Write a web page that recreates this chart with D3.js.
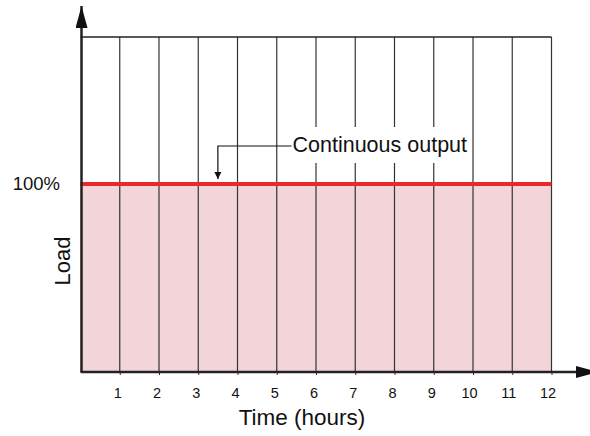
<!DOCTYPE html>
<html><head><meta charset="utf-8">
<script src="https://cdn.jsdelivr.net/npm/d3@7"></script>
<style>body{margin:0;background:#fff}</style>
</head><body>
<svg id="c" width="590" height="436"></svg>
<script>
const hours = [0,1,2,3,4,5,6,7,8,9,10,11,12];
const load = [100,100,100,100,100,100,100,100,100,100,100,100,100];
const tickLabels = ["1","2","3","4","5","6","7","8","9","10","11","12"];
const yTickLabels = ["100%"];
const annotation = "Continuous output";

const svg = d3.select("#c");
const L = 80.5, R = 551.5, T = 37, B = 371;
const x = d3.scaleLinear().domain([0,12]).range([L,R]);
const y = d3.scaleLinear().domain([0,100]).range([B,184]);
const font = "'Liberation Sans', Arial, sans-serif";

// fill
svg.append("path").datum(hours.map((h,i)=>[h,load[i]]))
  .attr("fill","#f3d4d8")
  .attr("d", d3.area().x(d=>x(d[0])).y0(B).y1(d=>y(d[1])));

// grid lines
svg.selectAll("line.g").data(hours.slice(1)).enter().append("line")
  .attr("x1",d=>x(d)).attr("x2",d=>x(d)).attr("y1",T).attr("y2",B)
  .attr("stroke","#333").attr("stroke-width",1.2);
// top border
svg.append("line").attr("x1",L).attr("x2",R).attr("y1",T).attr("y2",T)
  .attr("stroke","#222").attr("stroke-width",1.5);

// red line
svg.append("path").datum(hours.map((h,i)=>[h,load[i]]))
  .attr("fill","none").attr("stroke","#e8282b").attr("stroke-width",4)
  .attr("d", d3.line().x(d=>x(d[0])).y(d=>y(d[1])));

// x axis ticks
const xAxis = d3.axisBottom(x).tickValues(hours.slice(1)).tickFormat((d,i)=>tickLabels[i]).tickSize(4).tickPadding(13);
const gx = svg.append("g").attr("transform",`translate(0,${B})`).call(xAxis);
gx.select(".domain").remove();
gx.selectAll("line").attr("stroke","#333");
gx.selectAll("text").attr("font-family",font).attr("font-size",14.5).attr("fill","#111")
  .attr("dx",(d,i)=>tickLabels[i].length>1 ? -4 : -2.5);

// y label 100%
svg.selectAll("text.yl").data([100]).enter().append("text")
  .attr("x",60).attr("y",d=>y(d)).attr("dy","0.35em").attr("text-anchor","end")
  .attr("font-family",font).attr("font-size",18.5).attr("fill","#111")
  .text((d,i)=>yTickLabels[i]);

// axes with arrows
const defs = svg.append("defs");
defs.append("marker").attr("id","ah").attr("viewBox","0 0 10 10").attr("refX",10).attr("refY",5)
  .attr("markerWidth",7).attr("markerHeight",10).attr("markerUnits","userSpaceOnUse").attr("orient","auto")
  .append("path").attr("d","M0,0 L10,5 L0,10 Z").attr("fill","#111");
defs.append("marker").attr("id","big").attr("viewBox","0 0 22 12").attr("refX",22).attr("refY",6)
  .attr("markerWidth",22).attr("markerHeight",12).attr("markerUnits","userSpaceOnUse").attr("orient","auto")
  .append("path").attr("d","M0,0 L22,6 L0,12 Z").attr("fill","#111");

svg.append("line").attr("x1",81.5).attr("x2",81.5).attr("y1",B+1).attr("y2",6)
  .attr("stroke","#222").attr("stroke-width",2.5).attr("marker-end","url(#big)");
svg.append("line").attr("x1",80.5).attr("x2",598).attr("y1",B+1).attr("y2",B+1)
  .attr("stroke","#222").attr("stroke-width",2.5).attr("marker-end","url(#big)");

// axis titles
svg.append("text").attr("x",302).attr("y",425).attr("text-anchor","middle")
  .attr("font-family",font).attr("font-size",22.5).attr("fill","#111").text("Time (hours)");
svg.append("text").attr("transform","translate(70,261) rotate(-90)").attr("text-anchor","middle")
  .attr("font-family",font).attr("font-size",22).attr("fill","#111").text("Load");

// annotation
const tx = 292.5, ty = 151.5;
svg.append("rect").attr("x",tx-3).attr("y",127).attr("width",178).attr("height",36).attr("fill","#fff");
svg.append("text").attr("x",tx).attr("y",ty)
  .attr("font-family",font).attr("font-size",21.5).attr("fill","#111").text(annotation);
svg.append("path").attr("d",`M${tx-1},146 H${x(3.5)} V${y(100)-5}`)
  .attr("fill","none").attr("stroke","#111").attr("stroke-width",1.2).attr("marker-end","url(#ah)");
</script>
</body></html>
